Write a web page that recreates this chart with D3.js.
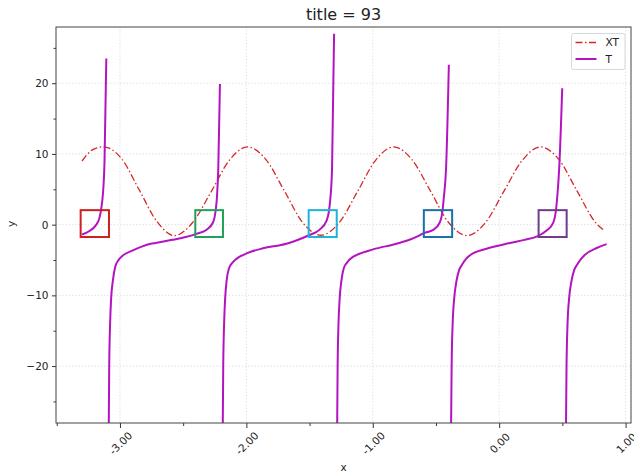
<!DOCTYPE html>
<html lang='en'>
<head>
    <meta charset='UTF-8'>
    <title>title = 93</title>
    <style>
        body {
            margin: 0;
            background: #fff;
        }

        svg text {
            font-family: 'DejaVu Sans', sans-serif;
            fill: #222;
        }

        .grid line {
            stroke: #d4d4d4;
            stroke-width: 0.8px;
            stroke-dasharray: 1.2, 2;
        }
    </style>
</head>
<body>
    <div id="chart"></div>
    <script src='https://d3js.org/d3.v7.min.js'></script>
    <script>
        // dash-dot series
        const xtX = [-3.30, -3.215, -3.13, -2.986, -2.85, -2.71, -2.57, -2.425, -2.28, -2.135, -1.99,
            -1.845, -1.70, -1.555, -1.41, -1.265, -1.12, -0.978, -0.834, -0.69, -0.545, -0.40, -0.253,
            -0.108, 0.037, 0.183, 0.328, 0.473, 0.618, 0.762, 0.837]
        const xtY = [9.0, 10.6, 11.0, 9.3, 5.0, 0.5, -1.55, 0.3, 4.6, 9.1, 11.0,
            9.2, 4.8, 0.3, -1.5, 0.3, 4.7, 9.1, 11.0, 9.2, 4.8, 0.3, -1.55,
            0.3, 4.7, 9.1, 11.0, 9.2, 4.7, 0.3, -0.9]

        // T branches, one list of [x, y] per branch (gaps between branches)
        const tBranch1 = [[-3.30, -1.4], [-3.245, -0.94], [-3.193, -0.14], [-3.161, 1.03], [-3.145, 2.67],
            [-3.135, 4.3], [-3.122, 9], [-3.108, 23.5]]
        const tBranch2 = [[-3.091, -34], [-3.085, -20], [-3.078, -14], [-3.070, -10.5], [-3.056, -7.9],
            [-3.038, -6.0], [-3.013, -5.05], [-2.977, -4.35], [-2.898, -3.65], [-2.766, -2.75],
            [-2.687, -2.5], [-2.586, -2.15], [-2.48, -1.75], [-2.396, -1.3], [-2.317, -0.75], [-2.264, 0.3],
            [-2.243, 2.0], [-2.233, 3.8], [-2.222, 8], [-2.209, 19.9]]
        const tBranch3 = [[-2.189, -34], [-2.183, -20], [-2.176, -14], [-2.168, -10.5], [-2.156, -7.9],
            [-2.138, -6.2], [-2.106, -5.3], [-2.06, -4.6], [-2.027, -4.3], [-1.96, -3.8], [-1.868, -3.35],
            [-1.684, -2.7], [-1.6, -2.2], [-1.505, -1.5], [-1.42, -0.7], [-1.367, 0.5], [-1.346, 1.97],
            [-1.335, 3.8], [-1.322, 8], [-1.306, 27.0]]
        const tBranch4 = [[-1.284, -34], [-1.278, -20], [-1.271, -14], [-1.262, -10.5], [-1.248, -7.9],
            [-1.23, -6.2], [-1.205, -5.4], [-1.16, -4.6], [-1.129, -4.3], [-0.997, -3.5], [-0.812, -2.7],
            [-0.72, -2.2], [-0.633, -1.55], [-0.596, -1.2], [-0.522, -0.75], [-0.47, 0.3], [-0.448, 2.0],
            [-0.438, 3.8], [-0.42, 8], [-0.398, 22.6]]
        const tBranch5 = [[-0.383, -34], [-0.376, -20], [-0.368, -14], [-0.356, -10.5], [-0.337, -7.9],
            [-0.316, -6.4], [-0.295, -5.7], [-0.26, -4.8], [-0.232, -4.35], [-0.1, -3.4], [0.085, -2.6],
            [0.2, -2.15], [0.296, -1.7], [0.375, -0.84], [0.428, 0.3], [0.449, 2.0], [0.459, 3.8],
            [0.475, 8], [0.499, 19.3]]
        const tBranch6 = [[0.526, -34], [0.533, -20], [0.541, -14], [0.553, -10.5], [0.573, -7.9],
            [0.594, -6.4], [0.615, -5.7], [0.65, -4.8], [0.679, -4.25], [0.771, -3.3], [0.85, -2.75]]
        const tBranches = [tBranch1, tBranch2, tBranch3, tBranch4, tBranch5, tBranch6]

        // highlight boxes
        const boxX0 = [-3.311, -2.404, -1.507, -0.596, 0.312]
        const boxX1 = [-3.087, -2.185, -1.285, -0.372, 0.534]
        const boxY = [-1.75, 2.05]
        const boxColors = ['#cc1f1f', '#22a05a', '#1cb4d8', '#1a70a8', '#6e3c8c']

        const xTicks = [-3, -2, -1, 0, 1]
        const xMinor = [-3.5, -2.5, -1.5, -0.5, 0.5]
        const yTicks = [-20, -10, 0, 10, 20]
        const yMinor = [-25, -15, -5, 5, 15, 25]

        const width = 634
        const height = 471
        const margin = { left: 56, top: 27, right: 3, bottom: 48 }
        const innerW = width - margin.left - margin.right
        const innerH = height - margin.top - margin.bottom

        const x = d3.scaleLinear().domain([-3.506, 1.043]).range([0, innerW])
        const y = d3.scaleLinear().domain([-28.05, 27.95]).range([innerH, 0])

        const svg = d3.select('#chart')
            .append('svg')
            .attr('width', width)
            .attr('height', height)

        const g = svg.append('g')
            .attr('transform', `translate(${margin.left}, ${margin.top})`)

        g.append('clipPath')
            .attr('id', 'plot-clip')
            .append('rect')
            .attr('width', innerW)
            .attr('height', innerH)

        // grid
        const grid = g.append('g').attr('class', 'grid')
        grid.selectAll('.gx')
            .data(xTicks)
            .enter()
            .append('line')
            .attr('x1', d => x(d))
            .attr('x2', d => x(d))
            .attr('y1', 0)
            .attr('y2', innerH)
        grid.selectAll('.gy')
            .data(yTicks)
            .enter()
            .append('line')
            .attr('x1', 0)
            .attr('x2', innerW)
            .attr('y1', d => y(d))
            .attr('y2', d => y(d))

        const plot = g.append('g').attr('clip-path', 'url(#plot-clip)')

        const line = d3.line()
            .x(d => x(d[0]))
            .y(d => y(d[1]))
            .curve(d3.curveMonotoneX)

        plot.append('path')
            .datum(d3.zip(xtX, xtY))
            .attr('d', line)
            .attr('fill', 'none')
            .attr('stroke', '#d62728')
            .attr('stroke-width', 1.3)
            .attr('stroke-dasharray', '7,2.5,1.5,2.5')

        plot.selectAll('.t-branch')
            .data(tBranches)
            .enter()
            .append('path')
            .attr('class', 't-branch')
            .attr('d', line)
            .attr('fill', 'none')
            .attr('stroke', '#b414c0')
            .attr('stroke-width', 2)

        plot.selectAll('.box')
            .data(boxX0)
            .enter()
            .append('rect')
            .attr('x', d => x(d))
            .attr('y', y(boxY[1]))
            .attr('width', (d, i) => x(boxX1[i]) - x(d))
            .attr('height', y(boxY[0]) - y(boxY[1]))
            .attr('fill', 'none')
            .attr('stroke', (d, i) => boxColors[i])
            .attr('stroke-width', 2)

        // axes
        const xAxis = g.append('g')
            .attr('transform', `translate(0, ${innerH})`)
            .call(d3.axisBottom(x).tickValues(xTicks).tickSize(5).tickFormat(d => d.toFixed(2)))
        xAxis.select('.domain').remove()
        xAxis.selectAll('text')
            .attr('font-size', 10.5)
            .attr('text-anchor', 'middle')
            .attr('dominant-baseline', 'central')
            .attr('y', 0)
            .attr('dy', 0)
            .attr('transform', 'translate(0, 20) rotate(-45)')
        g.append('g')
            .attr('transform', `translate(0, ${innerH})`)
            .call(d3.axisBottom(x).tickValues(xMinor).tickSize(3).tickFormat(''))
            .select('.domain').remove()

        const yAxis = g.append('g')
            .call(d3.axisLeft(y).tickValues(yTicks).tickSize(4).tickPadding(3.5).tickFormat(d3.format('d')))
        yAxis.select('.domain').remove()
        yAxis.selectAll('text').attr('font-size', 10.5)
        g.append('g')
            .call(d3.axisLeft(y).tickValues(yMinor).tickSize(2.5).tickFormat(''))
            .select('.domain').remove()

        g.selectAll('.tick line').attr('stroke', '#333')

        // spines
        g.append('rect')
            .attr('width', innerW)
            .attr('height', innerH)
            .attr('fill', 'none')
            .attr('stroke', '#444')
            .attr('stroke-width', 1)

        // labels
        svg.append('text')
            .attr('x', margin.left + innerW / 2)
            .attr('y', 20)
            .attr('text-anchor', 'middle')
            .attr('font-size', 16)
            .text('title = 93')

        svg.append('text')
            .attr('x', margin.left + innerW / 2)
            .attr('y', 470.5)
            .attr('text-anchor', 'middle')
            .attr('font-size', 10.5)
            .text('x')

        svg.append('text')
            .attr('transform', 'translate(15, 224) rotate(-90)')
            .attr('text-anchor', 'middle')
            .attr('font-size', 10.5)
            .text('y')

        // legend
        const legend = svg.append('g')
            .attr('transform', 'translate(571.5, 33.5)')
        legend.append('rect')
            .attr('width', 53.5)
            .attr('height', 36)
            .attr('rx', 2)
            .attr('fill', '#fff')
            .attr('fill-opacity', 0.85)
            .attr('stroke', '#d8d8d8')
        const entries = [
            { name: 'XT', color: '#d62728', dash: '7,2.5,1.5,2.5', w: 1.3 },
            { name: 'T', color: '#b414c0', dash: null, w: 2 }
        ]
        const item = legend.selectAll('.item')
            .data(entries)
            .enter()
            .append('g')
            .attr('transform', (d, i) => `translate(0, ${9 + i * 16.5})`)
        item.append('line')
            .attr('x1', 4)
            .attr('x2', 25)
            .attr('stroke', d => d.color)
            .attr('stroke-width', d => d.w)
            .attr('stroke-dasharray', d => d.dash)
        item.append('text')
            .attr('x', 34)
            .attr('y', 3.8)
            .attr('font-size', 10.5)
            .text(d => d.name)
    </script>
</body>
</html>
